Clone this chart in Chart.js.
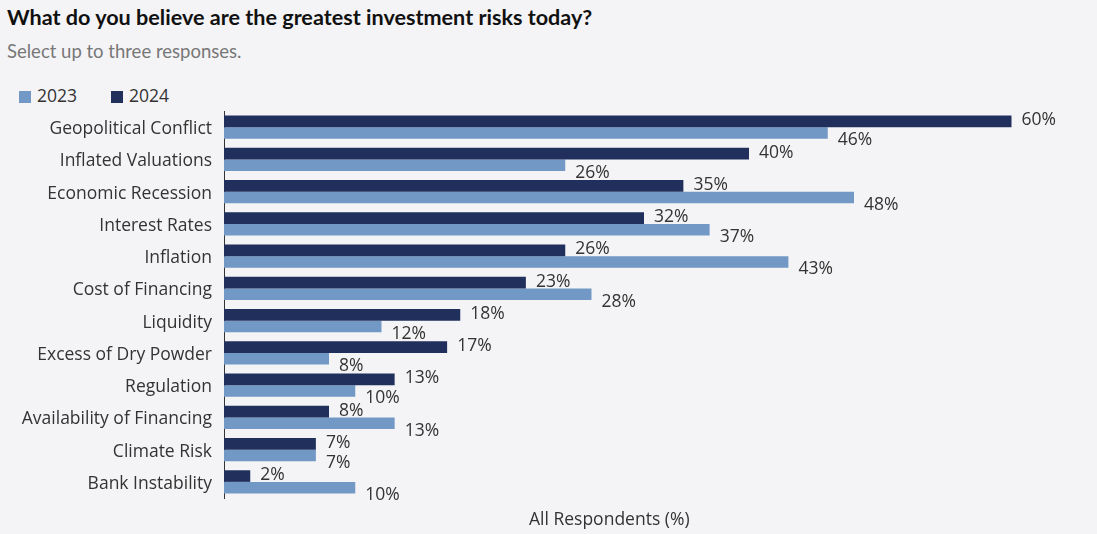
<!DOCTYPE html>
<html>
<head>
<meta charset="utf-8">
<script src="https://cdn.jsdelivr.net/npm/chart.js@4.4.1/dist/chart.umd.min.js"></script>
<style>
  html,body{margin:0;padding:0;background:#f4f4f6;}
  body{width:1097px;height:534px;position:relative;overflow:hidden;font-family:"Open Sans",sans-serif;color:#333;}
  #title{position:absolute;left:7px;top:4px;line-height:26px;font-family:Lato,sans-serif;font-weight:bold;font-size:21.6px;color:#111;white-space:nowrap;}
  #sub{position:absolute;left:7px;top:40px;line-height:22px;font-family:Lato,sans-serif;font-size:18.5px;color:#777;white-space:nowrap;}
  #legend{position:absolute;left:19px;top:83px;font-size:17.5px;line-height:24px;color:#333;}
  #legend span{position:absolute;top:0;white-space:nowrap;}
  #legend span i{display:inline-block;width:12px;height:12px;margin-right:6px;vertical-align:-1px;}
  #xtitle{position:absolute;left:529px;top:506px;font-size:17.5px;line-height:24px;color:#333;white-space:nowrap;}
  #wrap{position:absolute;left:0;top:0;width:1097px;height:534px;}
</style>
</head>
<body>
<div id="title">What do you believe are the greatest investment risks today?</div>
<div id="sub">Select up to three responses.</div>
<div id="legend"></div>
<div id="wrap"><canvas id="c"></canvas></div>
<div id="xtitle">All Respondents (%)</div>
<script>
// --- data ---
const categories = ['Geopolitical Conflict','Inflated Valuations','Economic Recession','Interest Rates','Inflation',
  'Cost of Financing','Liquidity','Excess of Dry Powder','Regulation','Availability of Financing','Climate Risk','Bank Instability'];
const values2024 = [60,40,35,32,26,23,18,17,13,8,7,2];
const values2023 = [46,26,48,37,43,28,12,8,10,13,7,10];
const seriesNames = ['2023','2024'];
const colors = {'2023':'#7299c6','2024':'#212f5d'};

document.getElementById('legend').innerHTML = seriesNames.map((n, i) =>
  `<span style="left:${i * 92}px"><i style="background:${colors[n]}"></i>${n}</span>`).join('');

// value labels: 2024 beside its bar, 2023 dropped a bit below
const valueLabels = {
  id:'valueLabels',
  afterDatasetsDraw(chart) {
    const ctx = chart.ctx;
    ctx.save();
    ctx.font = '17.5px "Open Sans"';
    ctx.fillStyle = '#333';
    ctx.textBaseline = 'middle';
    chart.data.datasets.forEach((ds, i) => {
      const meta = chart.getDatasetMeta(i);
      const dy = ds.label === '2023' ? 7.5 : -1;
      meta.data.forEach((bar, j) => {
        ctx.fillText(ds.data[j] + '%', bar.x + 10, bar.y + dy);
      });
    });
    ctx.restore();
  }
};

new Chart(document.getElementById('c'), {
  type:'bar',
  data:{
    labels:categories,
    datasets:[
      {label:'2024',data:values2024,backgroundColor:colors['2024'],categoryPercentage:0.72,barPercentage:1},
      {label:'2023',data:values2023,backgroundColor:colors['2023'],categoryPercentage:0.72,barPercentage:1}
    ]
  },
  options:{
    indexAxis:'y',
    responsive:true,maintainAspectRatio:false,animation:false,
    layout:{padding:{left:0,right:33,top:111,bottom:36}},
    plugins:{legend:{display:false},tooltip:{enabled:false}},
    scales:{
      x:{display:false,min:0,max:64},
      y:{
        afterFit(s){ s.width = 224; },
        grid:{display:false,drawTicks:false},
        border:{display:true,color:'#333',width:1},
        ticks:{color:'#333',padding:12,labelOffset:2,font:{family:'"Open Sans"',size:17.5}}
      }
    }
  },
  plugins:[valueLabels]
});
</script>
</body>
</html>
